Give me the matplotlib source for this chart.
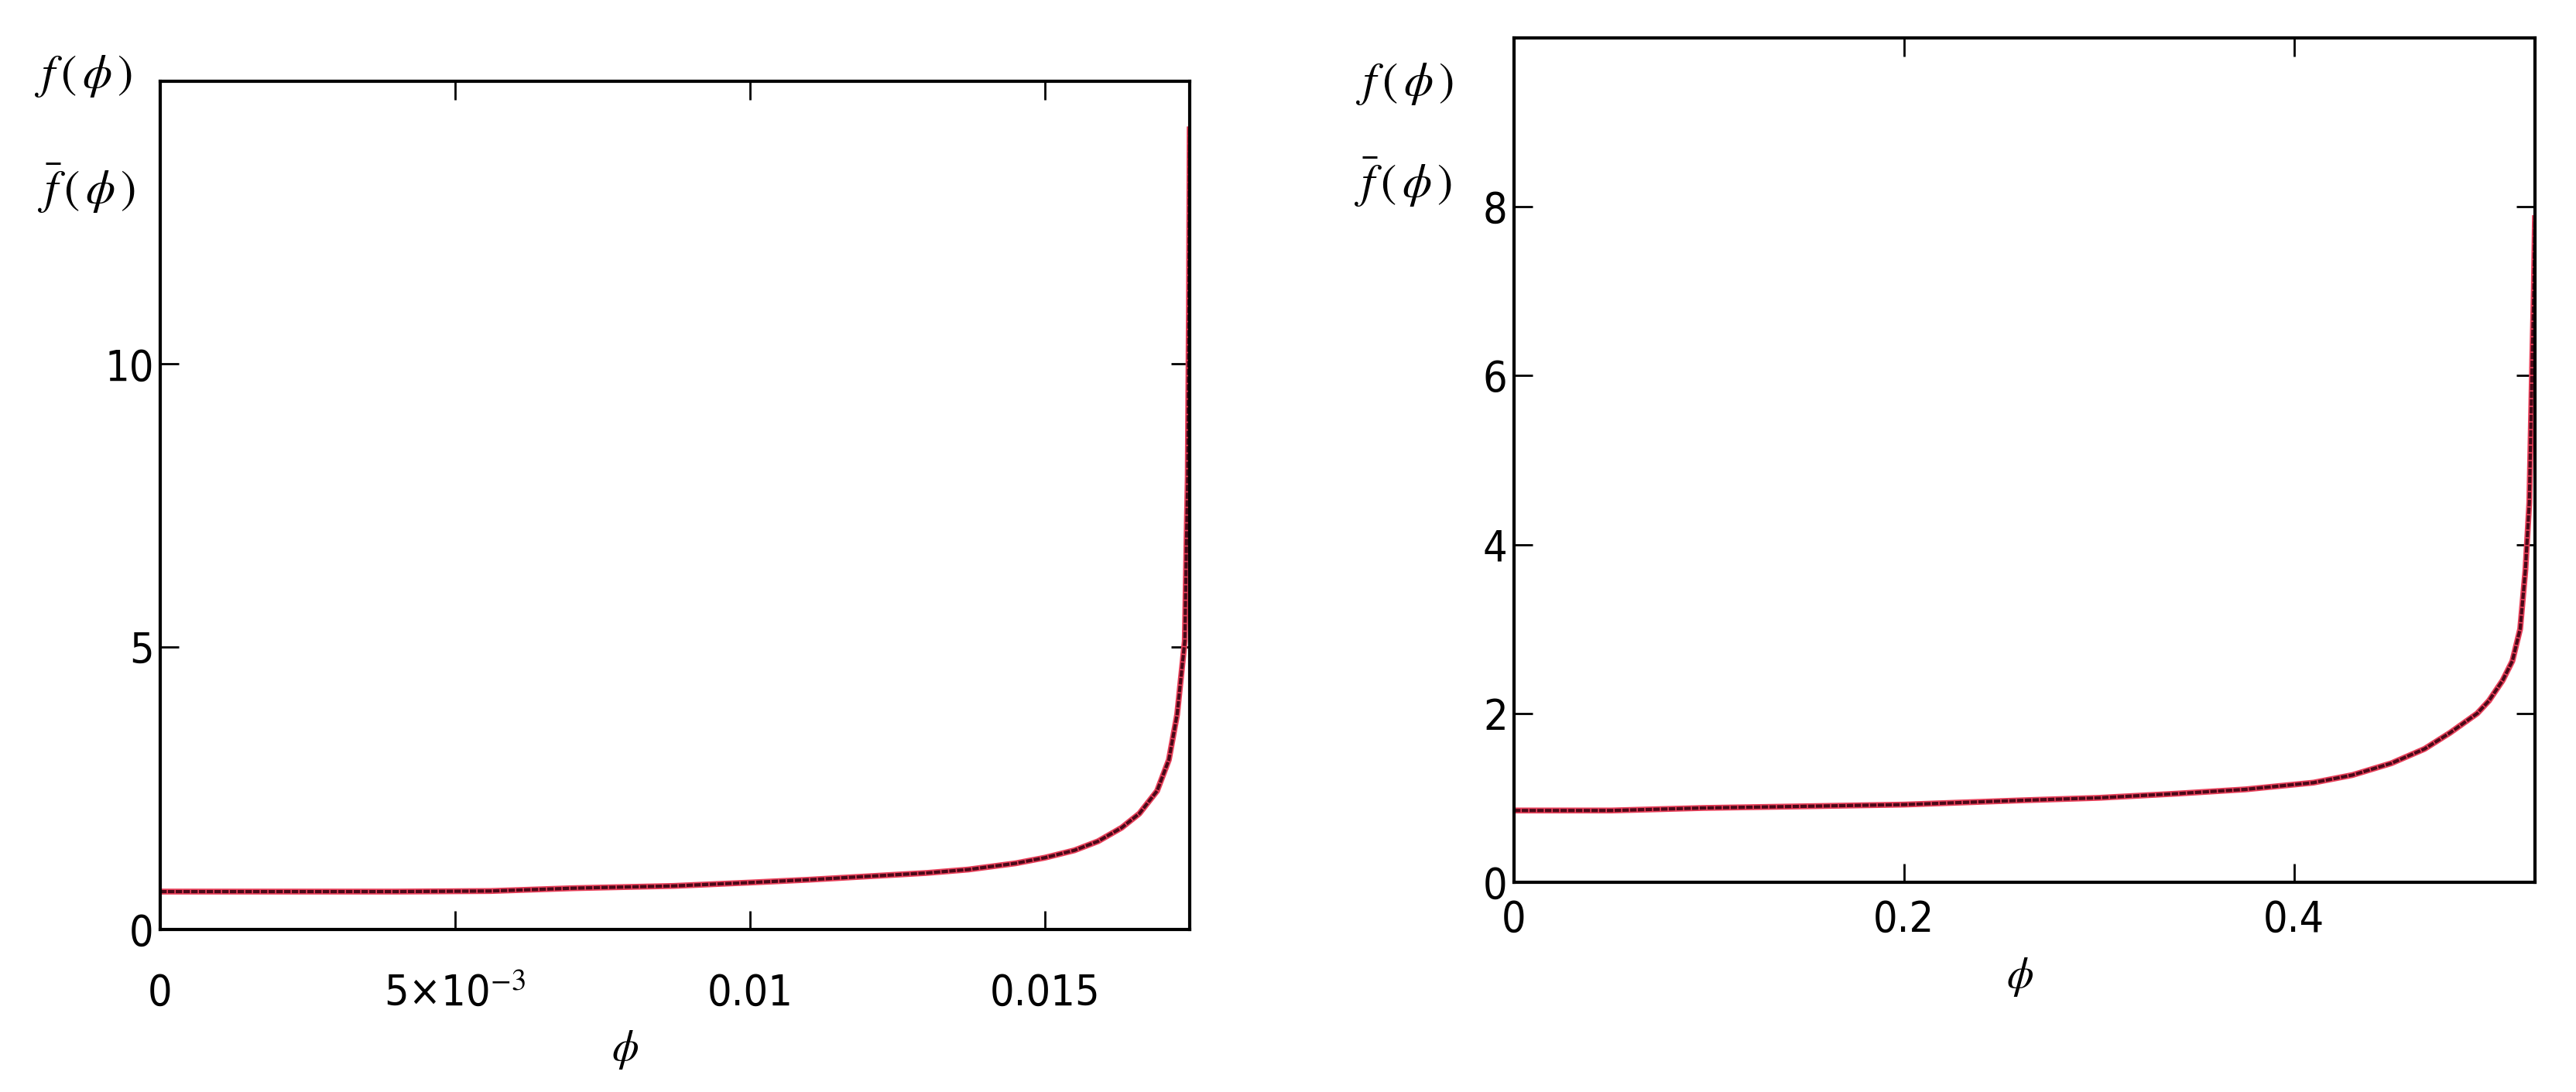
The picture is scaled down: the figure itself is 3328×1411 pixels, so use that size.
import numpy as np
import matplotlib
matplotlib.use('Agg')
import matplotlib.pyplot as plt

# values
phi_small = [0, 0.002, 0.004, 0.0056, 0.0070, 0.0087, 0.0100, 0.0110, 0.0120,
             0.0130, 0.0137, 0.0145, 0.0150, 0.0155, 0.0159, 0.0163, 0.0166,
             0.0169, 0.0171, 0.01724, 0.01732, 0.01737, 0.01740, 0.01742,
             0.01744, 0.017453]
f_small = [0.67, 0.67, 0.67, 0.68, 0.73, 0.77, 0.83, 0.88, 0.94,
           1.00, 1.06, 1.17, 1.27, 1.40, 1.56, 1.80, 2.05,
           2.45, 3.00, 3.80, 4.60, 5.10, 6.90, 8.00,
           11.0, 14.2]

phi_large = [0, 0.05, 0.097, 0.15, 0.20, 0.26, 0.30, 0.34, 0.375, 0.41,
             0.43, 0.45, 0.467, 0.48, 0.494, 0.500, 0.507, 0.512, 0.516,
             0.5187, 0.5207, 0.5222, 0.5230, 0.5236]
f_large = [0.85, 0.85, 0.88, 0.90, 0.92, 0.97, 1.00, 1.05, 1.10, 1.18,
           1.27, 1.41, 1.58, 1.77, 2.00, 2.15, 2.39, 2.62, 3.00,
           3.70, 4.50, 6.20, 7.00, 7.90]

xticks_small = [0, 0.005, 0.01, 0.015]
xlabels_small = ['0', '5×10$^{-3}$', '0.01', '0.015']
yticks_small = [0, 5, 10]
xticks_large = [0, 0.2, 0.4]
yticks_large = [0, 2, 4, 6, 8]

plt.rcParams['font.family'] = ['DejaVu Sans']
plt.rcParams['font.stretch'] = 'condensed'
plt.rcParams['mathtext.fontset'] = 'stix'

W, H = 3328, 1411
fig = plt.figure(figsize=(W / 100, H / 100), dpi=100)


def px_axes(x0, y0, x1, y1):
    return fig.add_axes([x0 / W, 1 - y1 / H, (x1 - x0) / W, (y1 - y0) / H])


def style(ax, xpad):
    for s in ax.spines.values():
        s.set_linewidth(3)
    ax.tick_params(direction='in', length=17, width=2, top=True, right=True,
                   labelsize=40)
    ax.tick_params(axis='x', pad=xpad)
    ax.tick_params(axis='y', pad=6)


def curves(ax, x, y):
    # f in red, f-bar as a dark dotted trace on top of it
    ax.plot(x, y, color='#e8405a', lw=5.5, solid_capstyle='butt')
    ax.plot(x, y, color='#4a0818', lw=3, ls=(0, (2, 0.4)))


ax1 = px_axes(207, 105, 1537, 1201)
curves(ax1, phi_small, f_small)
ax1.set_xlim(0, np.pi / 180)
ax1.set_ylim(0, 15)
ax1.set_xticks(xticks_small, xlabels_small)
ax1.set_yticks(yticks_small)
style(ax1, 40)

ax2 = px_axes(1956, 49, 3275, 1140)
curves(ax2, phi_large, f_large)
ax2.set_xlim(0, np.pi / 6)
ax2.set_ylim(0, 10)
ax2.set_xticks(xticks_large, ['0', '0.2', '0.4'])
ax2.set_yticks(yticks_large)
style(ax2, 16)


def label(x, y, s, size=44):
    fig.text(x / W, 1 - y / H, s, fontsize=size, ha='center', va='center')


label(108, 99, r'$f\,(\,\phi\,)$')
label(112, 243, r'$\bar{f}\,(\,\phi\,)$')
label(1815, 108, r'$f\,(\,\phi\,)$')
label(1813, 235, r'$\bar{f}\,(\,\phi\,)$')
label(808, 1357, r'$\phi$', 40)
label(2610, 1263, r'$\phi$', 40)

fig.savefig('out.png', dpi=100)
